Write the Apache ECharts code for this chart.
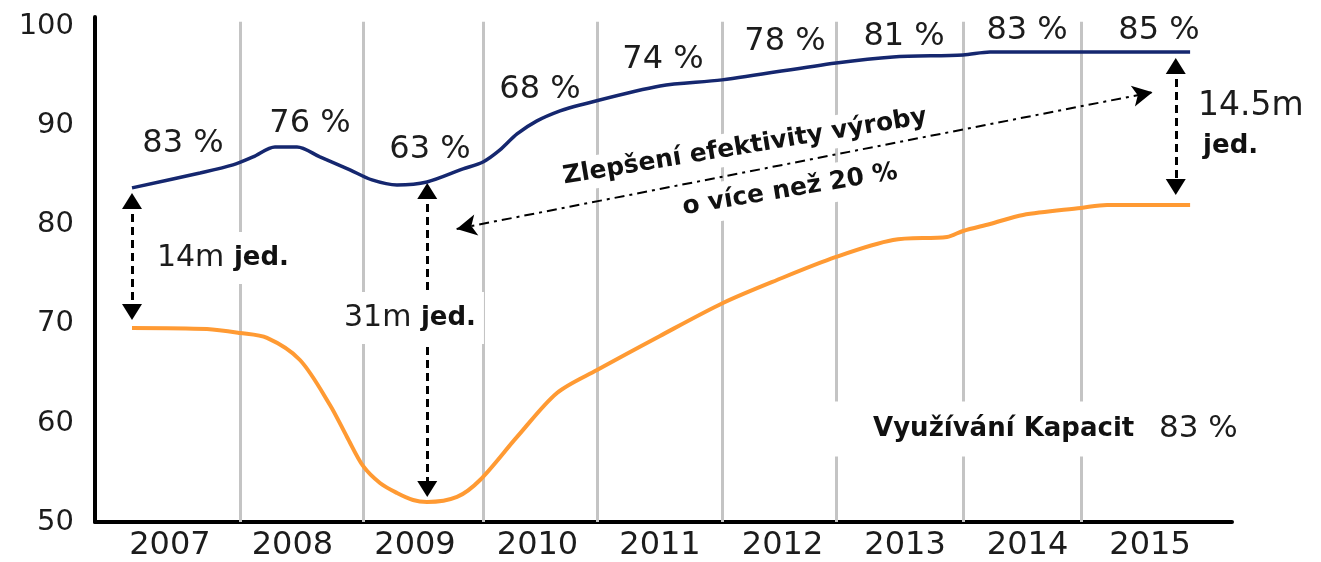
<!DOCTYPE html>
<html><head><meta charset="utf-8">
<script src="https://cdn.jsdelivr.net/npm/echarts@6/dist/echarts.min.js"></script>
<style>html,body{margin:0;padding:0;background:#fff}#c{width:1321px;height:562px}</style>
</head><body><div id="c"></div>
<script>
// ---- data ----
const years = [2007, 2008, 2009, 2010, 2011, 2012, 2013, 2014, 2015];
const utilisationPct = [83, 76, 63, 68, 74, 78, 81, 83, 85];
const yTicks = [50, 60, 70, 80, 90, 100];
// capacity (blue) curve
const capacityT = [2006.690,2007.245,2007.514,2007.678,2007.857,2008.037,2008.224,2008.469,2008.649,2008.853,2009.098,2009.392,2009.555,2009.694,2009.833,2009.996,2010.184,2010.347,2011.000,2011.506,2012.437,2012.902,2013.473,2013.694,2014.437,2015.327];
const capacityV = [83.74,85.25,86.06,86.87,87.88,87.88,86.87,85.56,84.55,84.04,84.34,85.66,86.36,87.58,89.19,90.51,91.52,92.12,94.04,94.65,96.36,96.97,97.17,97.47,97.47,97.47];
// output (orange) curve
const outputT = [2006.690,2007.302,2007.571,2007.792,2008.061,2008.306,2008.445,2008.576,2008.714,2008.853,2008.984,2009.098,2009.343,2009.531,2009.833,2010.159,2010.486,2011.000,2011.514,2011.955,2012.437,2012.902,2013.343,2013.473,2013.694,2013.963,2014.437,2014.649,2015.327];
const outputV = [69.60,69.49,69.09,68.59,66.36,61.82,58.59,55.66,53.94,52.93,52.22,52.02,52.53,54.24,58.59,63.03,65.35,68.79,72.12,74.44,76.77,78.48,78.79,79.39,80.10,81.01,81.72,82.02,82.02];
// vertical separators between years
const dividerT = [2007.571,2008.576,2009.555,2010.486,2011.506,2012.437,2013.473,2014.437];
const avgUtilisation = 83;

// ---- layout (annotation anchors in axis units) ----
const pctLabelPos = [[2007.106,88.18],[2008.143,90.20],[2009.122,87.58],[2010.020,93.64],[2011.024,96.67],[2012.020,98.48],[2012.992,98.99],[2013.996,99.60],[2015.073,99.60]];
const gapArrows = [ // [t, vTop, vBottom]
  [2006.69, 82.42, 71.21],
  [2009.10, 83.43, 53.33],
  [2015.21, 96.06, 83.84]
];
const effArrow = [[2009.34, 79.60], [2015.02, 93.40]];

const FONT = 'DejaVu Sans';
const INK = '#1c1c1c';

const chart = echarts.init(document.getElementById('c'));
const option = {
  animation: false,
  backgroundColor: '#ffffff',
  grid: { left: 95, right: 89, top: 17, bottom: 40 },
  xAxis: {
    type: 'value', min: 2006.388, max: 2015.669,
    axisLine: { show: true, onZero: false, lineStyle: { color: '#000', width: 4 } },
    axisTick: { show: false },
    splitLine: { show: false },
    axisLabel: {
      customValues: years, formatter: v => String(Math.round(v)),
      fontFamily: FONT, fontSize: 32, color: INK, margin: 8,
      showMinLabel: true, showMaxLabel: true
    }
  },
  yAxis: {
    type: 'value', min: 50, max: 101,
    axisLine: { show: true, onZero: false, lineStyle: { color: '#000', width: 4 } },
    axisTick: { show: false },
    splitLine: { show: false },
    axisLabel: {
      customValues: yTicks, formatter: v => String(v),
      fontFamily: FONT, fontSize: 29, color: INK, margin: 21
    }
  },
  series: [
    {
      name: 'dividers', type: 'line', data: [], silent: true,
      markLine: {
        silent: true, z: 1, symbol: 'none', label: { show: false },
        lineStyle: { color: '#c4c4c4', width: 3, type: 'solid' },
        data: dividerT.map(t => [{ coord: [t, 50] }, { coord: [t, 100.51] }])
      }
    },
    {
      name: 'Kapacita', type: 'line', z: 3, smooth: 0.3, symbol: 'none', silent: true,
      lineStyle: { color: '#15276f', width: 3.5 },
      data: capacityT.map((t, i) => [t, capacityV[i]])
    },
    {
      name: 'Výroba', type: 'line', z: 3, smooth: 0.3, symbol: 'none', silent: true,
      lineStyle: { color: '#ff9a33', width: 4 },
      data: outputT.map((t, i) => [t, outputV[i]])
    },
    {
      name: 'gaps', type: 'line', data: [], silent: true,
      markLine: {
        silent: true, z: 3, label: { show: false },
        symbol: ['triangle', 'triangle'], symbolSize: [20, 16],
        lineStyle: { color: '#000', width: 3, type: [8, 5] },
        data: gapArrows.map(a => [{ coord: [a[0], a[1]] }, { coord: [a[0], a[2]] }])
      }
    },
    {
      name: 'efficiency', type: 'line', data: [], silent: true,
      markLine: {
        silent: true, z: 6, label: { show: false },
        symbol: ['arrow', 'arrow'], symbolSize: [16, 20],
        lineStyle: { color: '#000', width: 2, type: [10, 5, 3, 5] },
        data: [[{ coord: effArrow[0] }, { coord: effArrow[1] }]]
      }
    }
  ]
};
chart.setOption(option);

const P = (t, v) => chart.convertToPixel({ gridIndex: 0 }, [t, v]);
const g = [];
utilisationPct.forEach((p, i) => {
  const xy = P(pctLabelPos[i][0], pctLabelPos[i][1]);
  g.push({ type: 'text', x: xy[0], y: xy[1], z: 8, silent: true,
    style: { text: p + ' %', fontFamily: FONT, fontSize: 32, fill: INK, align: 'center', verticalAlign: 'middle' } });
});
const rich = {
  r: { fontFamily: FONT, fontSize: 30, fill: INK },
  rl: { fontFamily: FONT, fontSize: 33, fill: INK },
  b: { fontFamily: FONT, fontSize: 26, fontWeight: 'bold', fill: '#111' }
};
function boxText(t, v, text, align, pad) {
  const xy = P(t, v);
  g.push({ type: 'text', x: xy[0], y: xy[1], z: 4, silent: true,
    style: { text: text, rich: rich, fontFamily: FONT, fontSize: 30, fill: INK,
      align: align, verticalAlign: 'middle', backgroundColor: '#fff', padding: pad } });
}
boxText(2006.861, 76.67, '{r|14m} {b|jed.}', 'left', [11, 6, 11, 4]);
boxText(2008.959, 70.61, '{r|31m} {b|jed.}', 'center', [11, 8, 11, 8]);
boxText(2015.392, 91.92, '{rl|14.5m}', 'left', [0, 0, 0, 0]);
boxText(2015.433, 87.98, '{b|jed.}', 'left', [0, 0, 0, 0]);
// efficiency texts (rotated)
[[2011.694, 87.88, 'Zlepšení efektivity výroby', [6, 8, 2, 8]], [2012.061, 83.54, 'o více než 20 %', [4, 8, 10, 8]]].forEach(a => {
  const xy = P(a[0], a[1]);
  g.push({ type: 'text', x: xy[0], y: xy[1], rotation: 0.165, z: 4, silent: true,
    style: { text: a[2], fontFamily: FONT, fontSize: 25, fontWeight: 'bold', fill: '#111',
      align: 'center', verticalAlign: 'middle', backgroundColor: '#fff', padding: a[3] } });
});
// average utilisation label
(function () {
  const xy = P(2012.739, 59.39);
  const padL = 45;
  g.push({ type: 'text', x: xy[0] - padL, y: xy[1], z: 4, silent: true,
    style: { text: '{b|Využívání Kapacit}   {r|' + avgUtilisation + ' %}',
      rich: { b: { fontFamily: FONT, fontSize: 26, fontWeight: 'bold', fill: '#111' },
              r: { fontFamily: FONT, fontSize: 31, fill: INK } },
      fontFamily: FONT, fontSize: 26, align: 'left', verticalAlign: 'middle',
      backgroundColor: '#fff', padding: [12, 10, 12, padL] } });
})();
chart.setOption({ graphic: g });
</script>
</body></html>
